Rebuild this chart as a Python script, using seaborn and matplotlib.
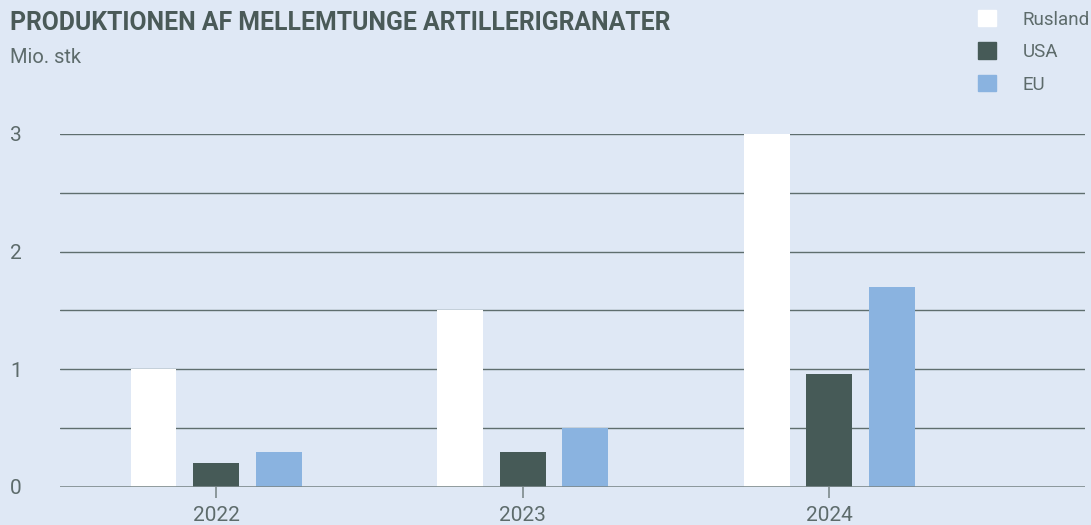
import pandas as pd
import matplotlib.pyplot as plt
import seaborn as sns

# Data (mio. stk)
years = ['2022', '2023', '2024']
countries = ['Rusland', 'USA', 'EU']
rusland = [1.0, 1.5, 3.0]
usa = [0.2, 0.3, 0.96]
eu = [0.3, 0.5, 1.7]

colors = ['#ffffff', '#465a57', '#8ab3e0']
bg = '#dfe8f5'
text_col = '#5d6b6b'
grid_col = '#5f6e6e'

df = pd.DataFrame({
    'År': years * 3,
    'Land': [c for c in countries for _ in years],
    'Værdi': rusland + usa + eu,
})

sns.set_style("white")
plt.rcParams['font.family'] = ['Roboto', 'DejaVu Sans']

fig = plt.figure(figsize=(10.91, 5.25), dpi=100, facecolor=bg)
ax = fig.add_axes([0.055, 0.0724, 0.9395, 0.6724])
ax.set_facecolor(bg)

# Grid lines every 0.5
for y in [0.5, 1, 1.5, 2, 2.5, 3]:
    ax.axhline(y, color=grid_col, lw=1, zorder=0)
ax.axhline(0, color='#7d8a8c', lw=1.2, zorder=3)

sns.barplot(data=df, x='År', y='Værdi', hue='Land', hue_order=countries,
            palette=colors, width=0.612, gap=0.265, saturation=1,
            linewidth=0, legend=False, ax=ax, zorder=2)

ax.set_xlim(-0.509, 2.835)
ax.set_ylim(0, 3)
ax.set_xlabel('')
ax.set_ylabel('')
for s in ax.spines.values():
    s.set_visible(False)

ax.set_yticks([0, 1, 2, 3])
ax.set_yticklabels(['0', '1', '2', '3'], ha='left')
ax.tick_params(axis='y', length=0, pad=36, labelsize=15, labelcolor=text_col)
ax.tick_params(axis='x', length=8, width=1.2, color='#7d8a8c', pad=6,
               labelsize=15, labelcolor=text_col, bottom=True)

fig.text(0.009, 0.957, 'PRODUKTIONEN AF MELLEMTUNGE ARTILLERIGRANATER',
         fontsize=17.8, fontweight='bold', color='#4a5a58', va='center')
fig.text(0.009, 0.89, 'Mio. stk', fontsize=14.5, color=text_col, va='center')

# Legend
handles = [plt.Rectangle((0, 0), 1, 1, color=c) for c in colors]
leg = fig.legend(handles, countries, loc='upper left',
                 bbox_to_anchor=(978 / 1091, 1 - 10 / 525), frameon=False,
                 borderpad=0, borderaxespad=0,
                 handlelength=0.96, handleheight=0.96, handletextpad=1.44,
                 labelspacing=0.74, fontsize=13.5)
for t in leg.get_texts():
    t.set_color(text_col)

plt.savefig('out.png', dpi=100, facecolor=bg)
plt.close()
